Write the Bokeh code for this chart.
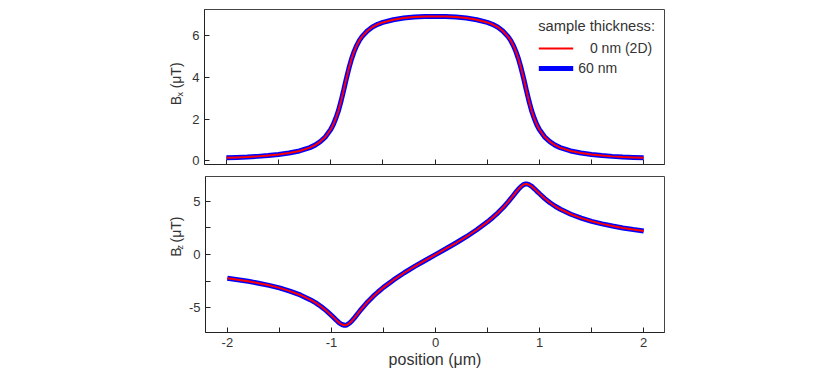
import math
from bokeh.plotting import figure
from bokeh.layouts import column, row
from bokeh.models import Range1d, FixedTicker, Legend, LegendItem
from bokeh.core.properties import value
from bokeh.embed import file_html
from bokeh.resources import INLINE

# ---------------- data ----------------
position = [-2.0, -1.9, -1.8, -1.7, -1.6, -1.5, -1.4, -1.3, -1.2, -1.15, -1.1, -1.05,
            -1.0, -0.975, -0.95, -0.925, -0.9, -0.875, -0.865, -0.85, -0.825, -0.8,
            -0.775, -0.75, -0.725, -0.7, -0.65, -0.6, -0.55, -0.5, -0.4, -0.3, -0.2, -0.1,
            0.0, 0.1, 0.2, 0.3, 0.4, 0.5, 0.55, 0.6, 0.65, 0.7, 0.725, 0.75, 0.775, 0.8,
            0.825, 0.85, 0.865, 0.875, 0.9, 0.925, 0.95, 0.975, 1.0, 1.05, 1.1, 1.15, 1.2,
            1.3, 1.4, 1.5, 1.6, 1.7, 1.8, 1.9, 2.0]

bx_0nm = [0.14, 0.16, 0.18, 0.21, 0.25, 0.30, 0.37, 0.47, 0.63, 0.75, 0.92, 1.15,
          1.50, 1.74, 2.05, 2.42, 2.88, 3.40, 3.62, 3.94, 4.45, 4.89,
          5.25, 5.54, 5.78, 5.96, 6.23, 6.42, 6.55, 6.64, 6.77, 6.85, 6.90, 6.92,
          6.93, 6.92, 6.90, 6.85, 6.77, 6.64, 6.55, 6.42, 6.23, 5.96, 5.78, 5.54, 5.25, 4.89,
          4.45, 3.94, 3.62, 3.40, 2.88, 2.42, 2.05, 1.74, 1.50, 1.15, 0.92, 0.75, 0.63,
          0.47, 0.37, 0.30, 0.25, 0.21, 0.18, 0.16, 0.14]

bz_0nm = [-2.21, -2.35, -2.50, -2.68, -2.88, -3.12, -3.42, -3.78, -4.25, -4.53, -4.86, -5.25,
          -5.70, -5.93, -6.17, -6.39, -6.55, -6.62, -6.62, -6.58, -6.41, -6.17,
          -5.88, -5.57, -5.26, -4.97, -4.41, -3.92, -3.48, -3.07, -2.35, -1.70, -1.11, -0.55,
          0.0, 0.55, 1.11, 1.70, 2.35, 3.07, 3.48, 3.92, 4.41, 4.97, 5.26, 5.57, 5.88, 6.17,
          6.41, 6.58, 6.62, 6.62, 6.55, 6.39, 6.17, 5.93, 5.70, 5.25, 4.86, 4.53, 4.25,
          3.78, 3.42, 3.12, 2.88, 2.68, 2.50, 2.35, 2.21]

# the 60 nm curves coincide with the 2D ones in the picture
bx_60nm = list(bx_0nm)
bz_60nm = list(bz_0nm)

series_labels = ["\u2007 0 nm (2D)", "60 nm"]
legend_title = "sample thickness:"
x_ticks = [-2, -1, 0, 1, 2]
x_minor = [-1.5, -0.5, 0.5, 1.5]
bx_ticks = [0, 2, 4, 6]
bz_ticks = [-5, 0, 5]
bz_minor = [-2.5, 2.5]

assert len(position) == len(bx_0nm) == len(bz_0nm)

# ---------------- styling / geometry ----------------
FONT = "Liberation Sans"
TXT = "#333333"
LW = 185                 # width of the column holding the y titles
FRAME_LEFT = 204         # page x of the plot frames
FRAME_W = 460
RIGHT = 120
MAIN_W = FRAME_LEFT - LW + FRAME_W + RIGHT
X0, X1 = -2.21, 2.20
TOP_Y0, TOP_Y1 = -0.18, 7.26
BOT_Y0, BOT_Y1 = -7.30, 7.32
H1_TOP, H1_FRAME, H1_BOT = 9, 155, 6
H2_TOP, H2_FRAME, H2_BOT = 6, 156, 38
H1 = H1_TOP + H1_FRAME + H1_BOT
H2 = H2_TOP + H2_FRAME + H2_BOT


def style(p, yticks, yminor):
    p.xgrid.visible = False
    p.ygrid.visible = False
    p.outline_line_color = "#444444"
    p.outline_line_width = 1
    for ax in (p.xaxis[0], p.yaxis[0]):
        ax.axis_line_color = "#222222"
        ax.major_tick_line_color = "#222222"
        ax.minor_tick_line_color = "#222222"
        ax.major_tick_in = 5
        ax.major_tick_out = 0
        ax.minor_tick_in = 5
        ax.minor_tick_out = 0
        ax.major_label_text_font = FONT
        ax.major_label_text_font_size = "13px"
        ax.major_label_text_color = TXT
    p.yaxis[0].ticker = FixedTicker(ticks=yticks, minor_ticks=yminor)
    p.yaxis[0].major_label_standoff = 5
    p.yaxis[0].major_label_overrides = {t: str(t) for t in yticks}


def title_fig(height, page_y_top, sub, y_start):
    """Narrow figure holding the rotated y title  B_sub (uT)  as real text."""
    f = figure(width=LW, height=height, output_backend="svg", toolbar_location=None,
               x_range=Range1d(0, LW), y_range=Range1d(0, height),
               x_axis_location=None, y_axis_location=None,
               min_border=0, min_border_left=0, min_border_right=0,
               min_border_top=0, min_border_bottom=0)
    f.xgrid.visible = False
    f.ygrid.visible = False
    f.outline_line_color = None

    def put(px, py, text, size):
        f.text(x=[px], y=[height - (py - page_y_top)], text=[text], angle=math.pi / 2,
               text_align="left", text_baseline="middle", text_font=value(FONT),
               text_font_size=value(size), text_color=TXT)

    put(175, y_start, "B", "14px")
    put(179.5, y_start - 9.5, sub, "9px")
    put(175, y_start - 18.5, "(\u03bcT)", "14px")
    return f


# ---------------- top panel: Bx ----------------
p1 = figure(width=MAIN_W, height=H1, output_backend="svg", toolbar_location=None,
            x_range=Range1d(X0, X1), y_range=Range1d(TOP_Y0, TOP_Y1),
            min_border_left=FRAME_LEFT - LW, min_border_right=RIGHT,
            min_border_top=H1_TOP, min_border_bottom=H1_BOT)
style(p1, bx_ticks, [])
# unlabeled ticks along the bottom of the upper panel
p1.xaxis[0].ticker = FixedTicker(ticks=[], minor_ticks=x_ticks + x_minor)
r1b = p1.line(position, bx_60nm, line_color="#0000ff", line_width=5)
r1r = p1.line(position, bx_0nm, line_color="#ff0000", line_width=2)

legend = Legend(items=[LegendItem(label=series_labels[0], renderers=[r1r]),
                       LegendItem(label=series_labels[1], renderers=[r1b])],
                location="top_right", title=legend_title,
                title_text_font=FONT, title_text_font_size="14.7px", title_text_font_style="normal",
                title_text_color=TXT, title_standoff=6,
                label_text_font=FONT, label_text_font_size="14px", label_text_color=TXT,
                glyph_width=35, glyph_height=16, label_height=16, label_standoff=5,
                spacing=4, padding=3, margin=6,
                border_line_alpha=0, background_fill_alpha=0)
p1.add_layout(legend)

# ---------------- bottom panel: Bz ----------------
p2 = figure(width=MAIN_W, height=H2, output_backend="svg", toolbar_location=None,
            x_range=p1.x_range, y_range=Range1d(BOT_Y0, BOT_Y1),
            min_border_left=FRAME_LEFT - LW, min_border_right=RIGHT,
            min_border_top=H2_TOP, min_border_bottom=H2_BOT)
style(p2, bz_ticks, bz_minor)
p2.xaxis[0].ticker = FixedTicker(ticks=x_ticks, minor_ticks=x_minor)
p2.xaxis[0].major_label_overrides = {t: str(t) for t in x_ticks}
p2.xaxis[0].major_label_standoff = 5
p2.xaxis[0].axis_label = "position (\u03bcm)"
p2.xaxis[0].axis_label_text_font = FONT
p2.xaxis[0].axis_label_text_font_size = "16px"
p2.xaxis[0].axis_label_text_font_style = "normal"
p2.xaxis[0].axis_label_text_color = TXT
p2.xaxis[0].axis_label_standoff = 1
p2.line(position, bz_60nm, line_color="#0000ff", line_width=5)
p2.line(position, bz_0nm, line_color="#ff0000", line_width=2)

t1 = title_fig(H1, 0, "x", 105)
t2 = title_fig(H2, H1, "z", 273)

layout = column(row(t1, p1, spacing=0), row(t2, p2, spacing=0), spacing=0)
open("out.html", "w").write(file_html(layout, INLINE))
